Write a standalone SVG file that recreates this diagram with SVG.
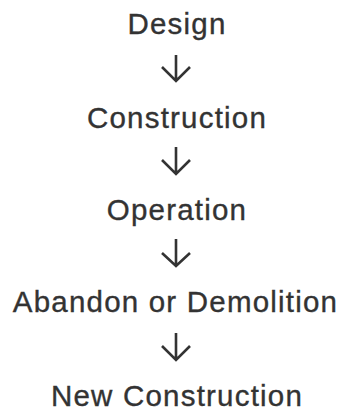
<svg xmlns="http://www.w3.org/2000/svg" width="340" height="410" viewBox="0 0 340 410">
<style>
.t{font-family:"Liberation Sans",Arial,sans-serif;font-size:29.5px;letter-spacing:1.2px;fill:#333333;stroke:#333333;stroke-width:0.35;text-anchor:middle}
.a{fill:none;stroke:#333333;stroke-width:2.6;stroke-linecap:butt;stroke-linejoin:miter}
</style>
<rect width="340" height="410" fill="#ffffff"/>
<g id="n1"><text class="t" x="177" y="33.5">Design</text></g>
<g id="n2"><text class="t" x="177" y="127.5">Construction</text></g>
<g id="n3"><text class="t" x="177" y="220">Operation</text></g>
<g id="n4"><text class="t" x="175.5" y="311.5">Abandon or Demolition</text></g>
<g id="n5"><text class="t" x="177" y="405.5">New Construction</text></g>
<g id="connectors">
<path class="a" d="M176 55V81M162 67L176 81L190 67"/>
<path class="a" d="M176 147V174M162 160L176 174L190 160"/>
<path class="a" d="M176 239V266M162 253L176 266L190 253"/>
<path class="a" d="M176 333V360M162 346L176 360L190 346"/>
</g>
</svg>
